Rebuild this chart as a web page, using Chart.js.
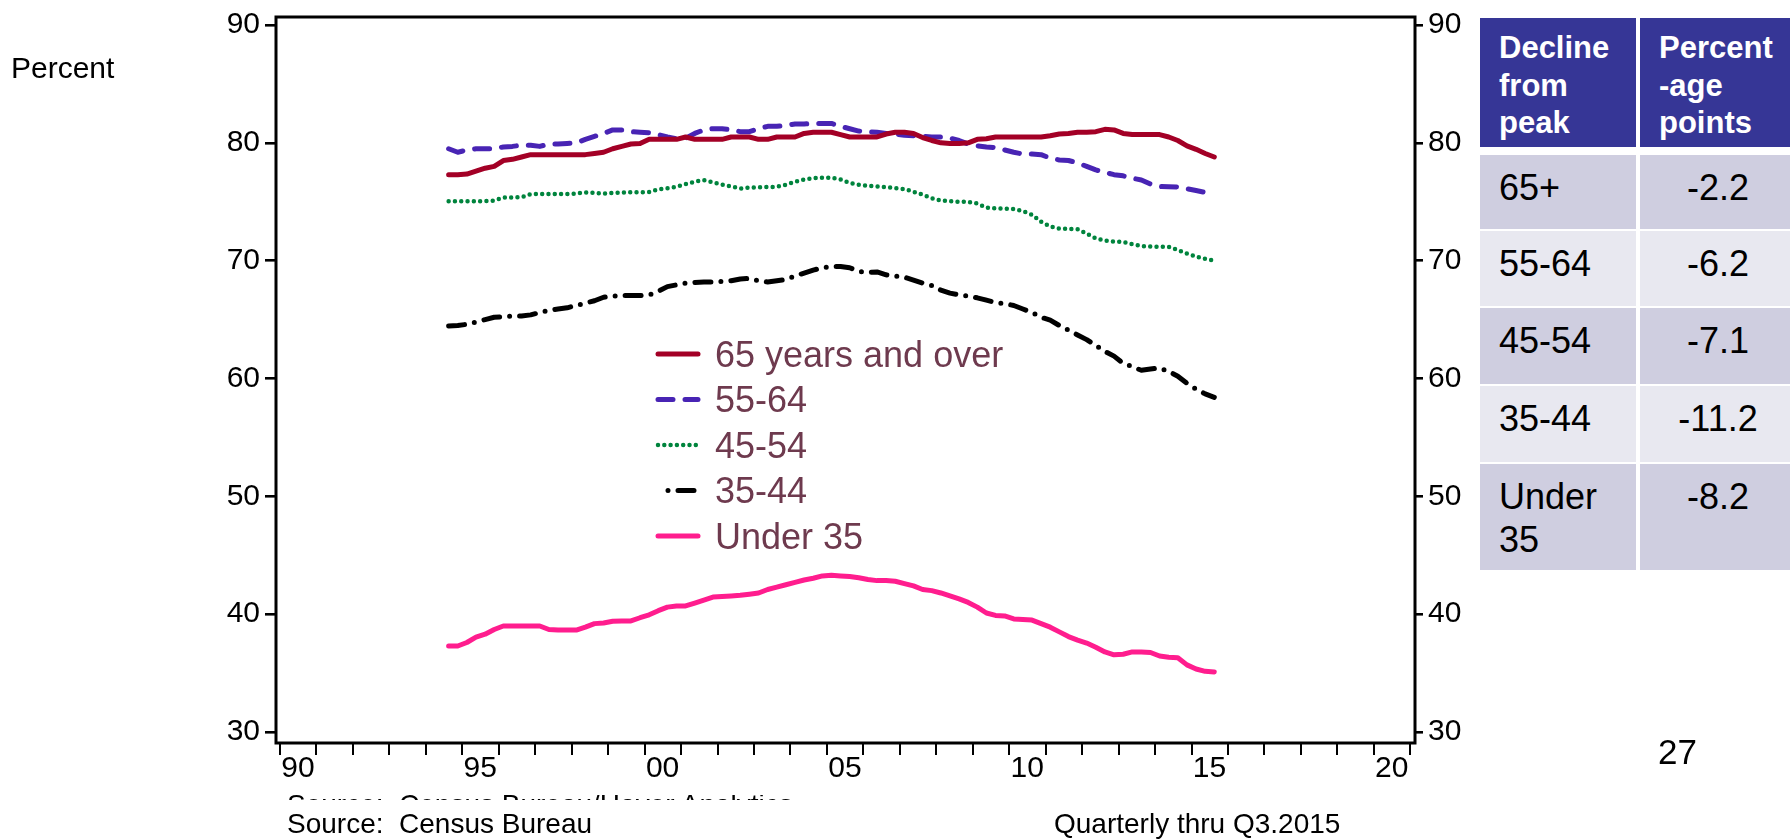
<!DOCTYPE html>
<html>
<head>
<meta charset="utf-8">
<script src="https://cdn.jsdelivr.net/npm/chart.js@4.4.1/dist/chart.umd.min.js"></script>
<style>
  html { margin: 0; padding: 0; overflow: hidden; width: 1790px; height: 839px; background: #fff; }
  body { margin: 0; padding: 0; background: #fff; width: 1790px; height: 839px; overflow: hidden; position: relative;
         font-family: "Liberation Sans", Arial, Helvetica, sans-serif; color: #000; }
  #c { position: absolute; left: 0; top: 0; }
  .txt { position: absolute; white-space: pre; }
  .cell { position: absolute; box-sizing: border-box; }
  .hdr { background: #363696; color: #fff; font-weight: bold; font-size: 31px;
         line-height: 37.5px; padding: 11px 0 0 19px; }
  .row { font-size: 36px; line-height: 43px; padding-top: 11px; }
  .c1 { padding-left: 19px; }
  .c2 { text-align: center; padding-left: 6px; }
  .odd { background: #CFCEE0; }
  .even { background: #E8E8F0; }
</style>
</head>
<body>
<canvas id="c" width="1790" height="839"></canvas>

<div class="txt" style="left:11px; top:53px; font-size:30px; line-height:30px;">Percent</div>
<div class="txt" style="left:287px; top:795px; height:5px; overflow:hidden; font-size:28px; line-height:28px;"><div style="margin-top:-4px;">Source:  Census Bureau/Haver Analytics</div></div>
<div class="txt" style="left:287px; top:810px; font-size:28px; line-height:28px;">Source:  Census Bureau</div>
<div class="txt" style="left:1054px; top:810px; font-size:28px; line-height:28px;">Quarterly thru Q3.2015</div>
<div class="txt" style="left:1658px; top:734px; font-size:35px; line-height:35px;">27</div>

<div id="table"></div>

<script>
// ---------------- data ----------------
const seriesNames = ["65 years and over", "55-64", "45-54", "35-44", "Under 35"];
const startYear = 1994;
const startQuarter = 3;

const age65plus = [
  77.3, 77.3,
  77.35, 77.6, 77.85, 78.0,
  78.5, 78.6, 78.8, 79.0,
  79.0, 79.0, 79.0, 79.0,
  79.0, 79.0, 79.1, 79.2,
  79.5, 79.7, 79.9, 79.95,
  80.3, 80.3, 80.3, 80.3,
  80.5, 80.3, 80.3, 80.3,
  80.3, 80.5, 80.5, 80.5,
  80.3, 80.3, 80.5, 80.5,
  80.5, 80.8, 80.9, 80.9,
  80.9, 80.7, 80.5, 80.5,
  80.5, 80.5, 80.75, 80.9,
  80.9, 80.8, 80.45, 80.2,
  80.0, 79.95, 79.95, 80.0,
  80.3, 80.35, 80.5, 80.5,
  80.5, 80.5, 80.5, 80.5,
  80.6, 80.75, 80.8, 80.9,
  80.9, 80.95, 81.15, 81.1,
  80.8, 80.7, 80.7, 80.7,
  80.7, 80.5, 80.2, 79.75,
  79.45, 79.1, 78.8
];
const age55to64 = [
  79.5, 79.2,
  79.4, 79.5, 79.5, 79.5,
  79.65, 79.7, 79.8, 79.8,
  79.7, 79.9, 79.9, 79.95,
  80.0, 80.3, 80.55, 80.8,
  81.1, 81.1, 80.95, 80.9,
  80.85, 80.7, 80.5, 80.35,
  80.4, 80.8, 81.1, 81.2,
  81.2, 81.1, 80.95, 80.95,
  81.2, 81.4, 81.4, 81.5,
  81.6, 81.6, 81.65, 81.65,
  81.65, 81.4, 81.2, 81.0,
  80.95, 80.9, 80.8, 80.75,
  80.65, 80.6, 80.55, 80.5,
  80.5, 80.4, 80.2, 79.9,
  79.75, 79.65, 79.6, 79.4,
  79.2, 79.05, 79.05, 79.0,
  78.7, 78.55, 78.5, 78.3,
  78.0, 77.7, 77.5, 77.3,
  77.2, 77.0, 76.85, 76.5,
  76.3, 76.27, 76.25, 76.1,
  75.95, 75.8, 75.6
];
const age45to54 = [
  75.05, 75.05,
  75.05, 75.05, 75.05, 75.1,
  75.35, 75.37, 75.4, 75.65,
  75.65, 75.65, 75.65, 75.65,
  75.7, 75.8, 75.75, 75.7,
  75.75, 75.77, 75.8, 75.8,
  75.82, 76.05, 76.15, 76.27,
  76.5, 76.7, 76.84, 76.65,
  76.45, 76.3, 76.12, 76.2,
  76.22, 76.25, 76.27, 76.45,
  76.7, 76.9, 77.0, 77.05,
  77.04, 76.9, 76.6, 76.45,
  76.36, 76.3, 76.25, 76.15,
  76.08, 75.85, 75.6, 75.3,
  75.1, 75.05, 75.0, 75.0,
  74.85, 74.5, 74.44, 74.42,
  74.38, 74.2, 73.9, 73.3,
  72.9, 72.72, 72.7, 72.68,
  72.3, 71.9, 71.7, 71.62,
  71.6, 71.4, 71.24, 71.2,
  71.18, 71.18, 70.9, 70.6,
  70.35, 70.15, 70.0
];
const age35to44 = [
  64.45, 64.5,
  64.6, 64.8, 65.0, 65.2,
  65.25, 65.3, 65.3, 65.4,
  65.6, 65.8, 65.9, 66.0,
  66.2, 66.4, 66.6, 66.9,
  67.0, 67.05, 67.05, 67.05,
  67.1, 67.4, 67.8, 67.95,
  68.1, 68.15, 68.2, 68.2,
  68.25, 68.3, 68.45, 68.5,
  68.3, 68.2, 68.3, 68.4,
  68.7, 68.95, 69.2, 69.4,
  69.5, 69.5, 69.4, 69.1,
  69.0, 69.05, 68.8, 68.7,
  68.6, 68.35, 68.1, 67.9,
  67.5, 67.25, 67.1, 67.0,
  66.85, 66.65, 66.45, 66.35,
  66.2, 65.9, 65.6, 65.2,
  64.95, 64.5, 64.1, 63.7,
  63.3, 62.8, 62.3, 61.9,
  61.3, 61.0, 60.7, 60.8,
  60.9, 60.6, 60.2, 59.6,
  59.1, 58.7, 58.4
];
const under35 = [
  37.3, 37.3,
  37.6, 38.05, 38.3, 38.7,
  39.0, 39.0, 39.0, 39.0,
  39.0, 38.7, 38.65, 38.65,
  38.65, 38.9, 39.2, 39.26,
  39.4, 39.43, 39.43, 39.7,
  39.95, 40.3, 40.6, 40.7,
  40.7, 40.95, 41.2, 41.45,
  41.5, 41.55, 41.6, 41.7,
  41.8, 42.1, 42.3, 42.5,
  42.7, 42.9, 43.05, 43.25,
  43.3, 43.25, 43.2, 43.1,
  42.95, 42.85, 42.85, 42.8,
  42.6, 42.4, 42.1, 42.0,
  41.8, 41.55, 41.3, 41.0,
  40.6, 40.1, 39.9, 39.85,
  39.6, 39.55, 39.5, 39.2,
  38.9, 38.5, 38.1, 37.8,
  37.55, 37.2, 36.8, 36.55,
  36.6, 36.8, 36.8, 36.75,
  36.45, 36.35, 36.3, 35.7,
  35.35, 35.15, 35.1
];

const yTickValues = [30, 40, 50, 60, 70, 80, 90];
const xTickYears = [1990,1991,1992,1993,1994,1995,1996,1997,1998,1999,2000,2001,2002,2003,2004,2005,
                    2006,2007,2008,2009,2010,2011,2012,2013,2014,2015,2016,2017,2018,2019,2020,2021];
const xTickLabels = {1990: "90", 1995: "95", 2000: "00", 2005: "05", 2010: "10", 2015: "15", 2020: "20"};

const tableHeader = ["Decline\nfrom\npeak", "Percent\n-age\npoints"];
const tableGroups = ["65+", "55-64", "45-54", "35-44", "Under\n35"];
const tableDeclines = ["-2.2", "-6.2", "-7.1", "-11.2", "-8.2"];

// quarter labels, e.g. "1994Q3"
const quarters = [];
for (let i = 0; i < age65plus.length; i++) {
  const k = (startQuarter - 1) + i;
  quarters.push((startYear + Math.floor(k / 4)) + "Q" + (k % 4 + 1));
}
function quarterToX(q) {
  const y = parseInt(q.slice(0, 4), 10), n = parseInt(q.slice(5), 10);
  return y + (n - 0.5) / 4;
}
function toPoints(vals) { return vals.map((v, i) => ({ x: quarterToX(quarters[i]), y: v })); }

// ---------------- table ----------------
(function buildTable() {
  const t = document.getElementById("table");
  const colLeft = [1480, 1640], colW = [156, 150];
  function cell(cls, col, top, h, text) {
    const d = document.createElement("div");
    d.className = "cell " + cls;
    d.style.left = colLeft[col] + "px"; d.style.top = top + "px";
    d.style.width = colW[col] + "px"; d.style.height = h + "px";
    d.innerHTML = text.split("\n").join("<br>");
    t.appendChild(d);
  }
  cell("hdr", 0, 18, 129, tableHeader[0]);
  cell("hdr", 1, 18, 129, tableHeader[1]);
  const tops = [155, 230.5, 308, 386, 464];
  const hs = [73.5, 75.5, 75.5, 76, 106];
  tableGroups.forEach((g, i) => {
    const cls = "row " + (i % 2 === 0 ? "odd" : "even");
    cell(cls + " c1", 0, tops[i], hs[i], g);
    cell(cls + " c2", 1, tops[i], hs[i], tableDeclines[i]);
  });
})();

// ---------------- chart ----------------
const FONT = "'Liberation Sans', Arial, Helvetica, sans-serif";
const styles = [
  { color: "#A30026", width: 5, dash: [], cap: "round" },
  { color: "#4824B4", width: 5, dash: [15, 12], cap: "round" },
  { color: "#00843D", width: 4.5, dash: [0, 6.3], cap: "round" },
  { color: "#000000", width: 5, dash: [16, 10, 0, 10], cap: "round" },
  { color: "#FF1D8E", width: 5, dash: [], cap: "round" }
];
const allSeries = [age65plus, age55to64, age45to54, age35to44, under35];

const datasets = allSeries.map((vals, i) => ({
  label: seriesNames[i],
  data: toPoints(vals),
  borderColor: styles[i].color,
  backgroundColor: styles[i].color,
  borderWidth: styles[i].width,
  borderDash: styles[i].dash,
  borderCapStyle: styles[i].cap,
  borderJoinStyle: "round",
  pointRadius: 0,
  tension: 0,
  fill: false
}));

const framePlugin = {
  id: "frame",
  beforeDatasetsDraw(chart) {
    const a = chart.chartArea, ctx = chart.ctx;
    ctx.save();
    ctx.strokeStyle = "#000"; ctx.lineWidth = 3;
    ctx.strokeRect(a.left, a.top, a.right - a.left, a.bottom - a.top);
    ctx.restore();
  }
};

const legendPlugin = {
  id: "customLegend",
  afterDraw(chart) {
    const ctx = chart.ctx;
    const x0 = 658, x1 = 698, tx = 715, y0 = 354, dy = 45.5;
    chart.data.datasets.forEach((ds, i) => {
      const y = y0 + i * dy;
      ctx.save();
      ctx.beginPath();
      ctx.rect(x0 - 4, y - 10, x1 - x0 + 8, 20);
      ctx.clip();
      ctx.strokeStyle = ds.borderColor;
      ctx.lineWidth = ds.borderWidth;
      ctx.lineCap = ds.borderCapStyle;
      ctx.setLineDash(ds.borderDash);
      ctx.lineDashOffset = (i === 3) ? 16 : 0;
      ctx.beginPath();
      ctx.moveTo(x0, y); ctx.lineTo(x1, y);
      ctx.stroke();
      ctx.restore();
      ctx.save();
      ctx.fillStyle = "#6E3A4E";
      ctx.font = "36px " + FONT;
      ctx.textBaseline = "alphabetic";
      ctx.textAlign = "left";
      ctx.fillText(ds.label, tx, y + 12.8);
      ctx.restore();
    });
  }
};

const yMin = 29.07, yMax = 90.68;
function yAxis(position, width, tickLen) {
  return {
    type: "linear",
    position: position,
    min: yMin, max: yMax,
    afterBuildTicks: (axis) => { axis.ticks = yTickValues.map(v => ({ value: v })); },
    afterFit: (axis) => { axis.width = width; axis.paddingTop = 0; axis.paddingBottom = 0; },
    border: { display: false },
    grid: { drawOnChartArea: false, drawTicks: true, tickLength: tickLen, color: "#000", lineWidth: 2.6 },
    ticks: { color: "#000", padding: 5, font: { family: FONT, size: 30 }, callback: (v) => String(v) }
  };
}

new Chart(document.getElementById("c"), {
  type: "line",
  data: { datasets: datasets },
  options: {
    responsive: false,
    animation: false,
    events: [],
    layout: { padding: { top: 17, left: 0, right: 0, bottom: 0 } },
    plugins: { legend: { display: false }, tooltip: { enabled: false }, title: { display: false } },
    scales: {
      x: {
        type: "linear",
        position: "bottom",
        min: 1989.89, max: 2021.13,
        afterBuildTicks: (axis) => { axis.ticks = xTickYears.map(v => ({ value: v })); },
        afterFit: (axis) => { axis.height = 96; axis.paddingLeft = 0; axis.paddingRight = 0; },
        border: { display: false },
        grid: { drawOnChartArea: false, drawTicks: true, tickLength: 12, color: "#000", lineWidth: 2 },
        ticks: {
          autoSkip: false, maxRotation: 0, minRotation: 0,
          color: "#000", padding: -4, labelOffset: 18,
          font: { family: FONT, size: 30 },
          callback: (v) => (xTickLabels[v] !== undefined ? xTickLabels[v] : "")
        }
      },
      y: yAxis("left", 276, 11),
      y2: yAxis("right", 375, 8)
    }
  },
  plugins: [framePlugin, legendPlugin]
});
</script>
</body>
</html>
